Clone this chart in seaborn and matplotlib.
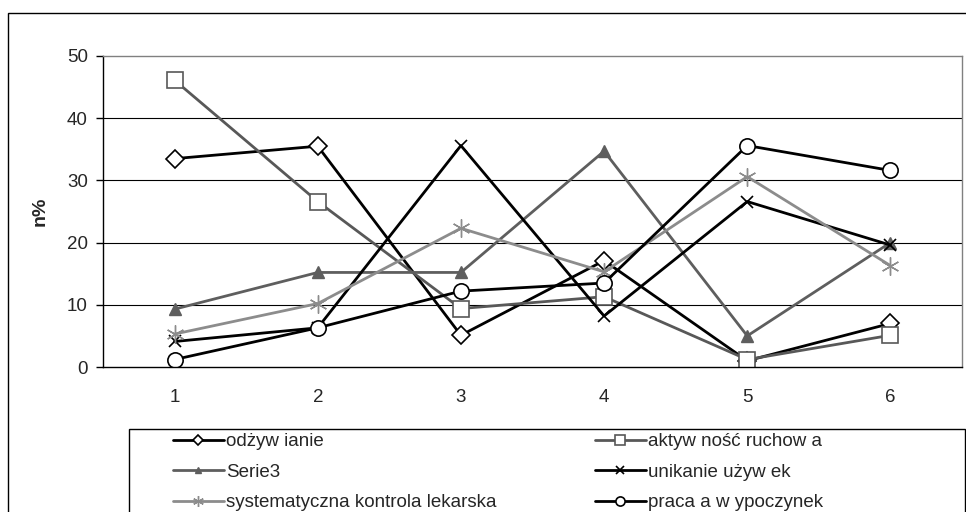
import matplotlib
matplotlib.use("Agg")
import matplotlib.pyplot as plt
import seaborn as sns
from matplotlib.patches import Rectangle

# ─── data ─────────────────────────────────────────────
categories = [1, 2, 3, 4, 5, 6]
odzywianie = [33.5, 35.5, 5.1, 17.1, 1.0, 7.0]
aktywnosc = [46.1, 26.6, 9.4, 11.3, 1.2, 5.1]
serie3 = [9.3, 15.2, 15.2, 34.7, 5.0, 20.0]
unikanie = [4.1, 6.3, 35.6, 8.2, 26.6, 19.6]
kontrola = [5.3, 10.2, 22.3, 15.3, 30.6, 16.3]
praca = [1.2, 6.3, 12.2, 13.5, 35.6, 31.6]

labels = ["odżyw ianie", "aktyw ność ruchow a", "Serie3",
          "unikanie używ ek", "systematyczna kontrola lekarska",
          "praca a w ypoczynek"]
y_ticks = [0, 10, 20, 30, 40, 50]

sns.set_style("white")
plt.rcParams['font.family'] = ['Liberation Sans', 'DejaVu Sans']

fig = plt.figure(figsize=(9.66, 5.12), dpi=100)
ax = fig.add_axes([103 / 966, 1 - 367 / 512, 859 / 966, 311 / 512])

series = [
    (odzywianie, dict(color="#000000", marker="D", mfc="white", mec="black", ms=9, mew=1.2)),
    (aktywnosc, dict(color="#585858", marker="s", mfc="white", mec="#585858", ms=11.5, mew=1.2)),
    (serie3, dict(color="#5e5e5e", marker="^", mfc="#5e5e5e", mec="#5e5e5e", ms=8, mew=1.0)),
    (unikanie, dict(color="#000000", marker="x", mfc="black", mec="black", ms=9, mew=1.2)),
    (kontrola, dict(color="#8c8c8c", marker=(6, 2, 0), mfc="#8c8c8c", mec="#8c8c8c", ms=13, mew=1.0)),
    (praca, dict(color="#000000", marker="o", mfc="white", mec="black", ms=11, mew=1.2)),
]

for (vals, style), lab in zip(series, labels):
    sns.lineplot(x=categories, y=vals, ax=ax, linewidth=2.0, label=lab, **style)
handles, hlabels = ax.get_legend_handles_labels()
ax.get_legend().remove()

ax.set_xlim(0.5, 6.5)
ax.set_ylim(0, 50)
ax.set_yticks(y_ticks)
ax.set_xticks(categories)
ax.set_xticks([0.5 + i for i in range(7)], minor=True)
ax.tick_params(axis='x', which='major', length=0, pad=16, labelsize=13.5)
ax.tick_params(axis='x', which='minor', length=5, width=1, direction='out', color='black')
ax.tick_params(axis='y', length=5, width=1, direction='out', color='black', pad=6, labelsize=13.5,
               left=True)
ax.set_ylabel("n%", fontsize=14, fontweight='bold', labelpad=13)
ax.set_xlabel("")

for y in y_ticks[1:-1]:
    ax.axhline(y, color='black', linewidth=0.8, zorder=0)

ax.spines['left'].set_color('black')
ax.spines['bottom'].set_color('black')
ax.spines['top'].set_color('#808080')
ax.spines['right'].set_color('#808080')
for s in ax.spines.values():
    s.set_visible(True)
    s.set_linewidth(1.0)

# outer chart frame
fig.patches.append(Rectangle((8 / 966, -0.1), 1.2, 1 - 13 / 512 + 0.1,
                             transform=fig.transFigure, fill=False,
                             edgecolor='black', linewidth=1.0))
# legend frame
fig.patches.append(Rectangle((129 / 966, -0.1), (965 - 129) / 966, 1 - 429 / 512 + 0.1,
                             transform=fig.transFigure, fill=False,
                             edgecolor='black', linewidth=1.0))

leg_kw = dict(loc='upper left', frameon=False, borderpad=0, borderaxespad=0,
              handlelength=2.7, handletextpad=0.15, labelspacing=0.72,
              markerscale=0.6, fontsize=13.5)
left_idx = [0, 2, 4]
right_idx = [1, 3, 5]
fig.legend([handles[i] for i in left_idx], [hlabels[i] for i in left_idx],
           bbox_to_anchor=(173 / 966, 1 - 433 / 512), **leg_kw)
fig.legend([handles[i] for i in right_idx], [hlabels[i] for i in right_idx],
           bbox_to_anchor=(595 / 966, 1 - 433 / 512), **leg_kw)

fig.savefig("out.png", dpi=100)
